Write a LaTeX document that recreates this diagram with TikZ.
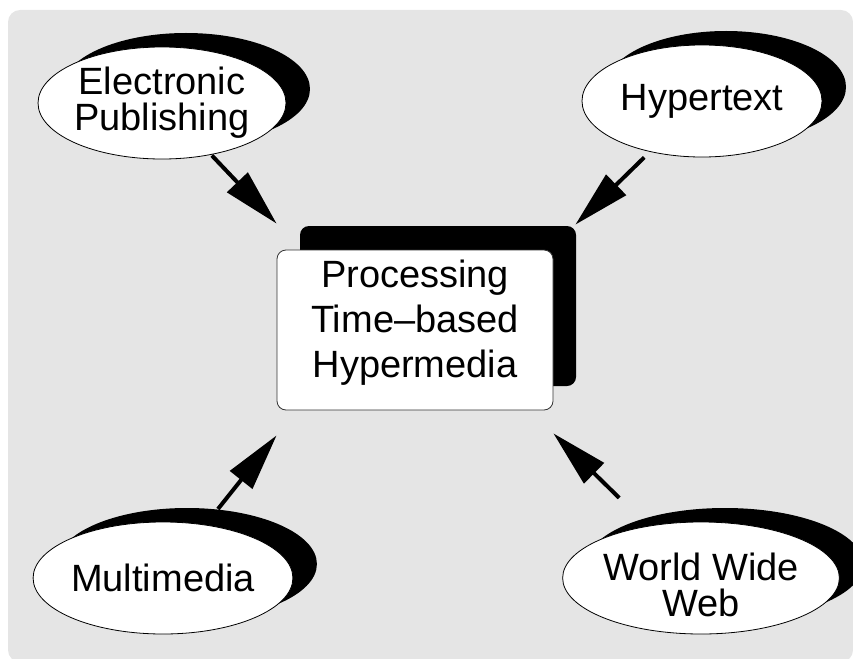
\documentclass[tikz,border=0pt]{standalone}
\usepackage{fontspec}
\setmainfont{Liberation Sans}
\usepackage{xcolor}
\usetikzlibrary{shapes, arrows.meta, positioning, shadows}
\definecolor{bggray}{RGB}{229,229,229}

\begin{document}
\begin{tikzpicture}[x=1pt, y=-1pt, on grid, >={Triangle[length=57pt, width=28pt]},
        topic/.style={ellipse, draw, line width=0.8pt, fill=white, minimum width=240pt, minimum height=112pt,
            inner sep=0pt, align=center, font=\fontsize{38pt}{36pt}\selectfont,
            drop shadow={shadow xshift=24pt, shadow yshift=14pt, fill=black, opacity=1}},
        mainbox/.style={draw=black!80, line width=0.8pt, fill=white, rounded corners=9pt, minimum width=276pt,
            minimum height=160pt, align=center, font=\fontsize{38pt}{45pt}\selectfont,
            drop shadow={shadow xshift=23pt, shadow yshift=24pt, fill=black, opacity=1}},
        arrow/.style={->, line width=4pt}]
        \useasboundingbox (0,0) rectangle (853,658);
        \fill[bggray, rounded corners=12pt] (8,10) rectangle (853,662);

        % Nodes
        \node[mainbox] (box) at (415,330) {Processing\\Time–based\\Hypermedia\rule[-23pt]{0pt}{23pt}};
        \node[topic, above left=227pt and 253pt of box] (ep) {Electronic\\Publishing};
        \node[topic, above right=229pt and 287pt of box] (ht) {Hypertext};
        \node[topic, below left=248pt and 252pt of box] (mm) {Multimedia};
        \node[topic, below right=248pt and 286pt of box] (www) {\rule{0pt}{42pt}World Wide\\Web};

        % Arrow tips near the box corners
        \coordinate (epin) at ([yshift=26pt]box.north west);
        \coordinate (htin) at ([xshift=22pt, yshift=25pt]box.north east);
        \coordinate (mmin) at ([yshift=-25pt]box.south west);
        \coordinate (wwwin) at ([yshift=-23pt]box.south east);

        % Arrows
        \draw[arrow, shorten <=1pt] (ep) -- (epin);
        \draw[arrow, shorten <=8pt] (ht) -- (htin);
        \draw[arrow, shorten <=20pt] (mm) -- (mmin);
        \draw[arrow, shorten <=40pt] (www) -- (wwwin);

\end{tikzpicture}
\end{document}
